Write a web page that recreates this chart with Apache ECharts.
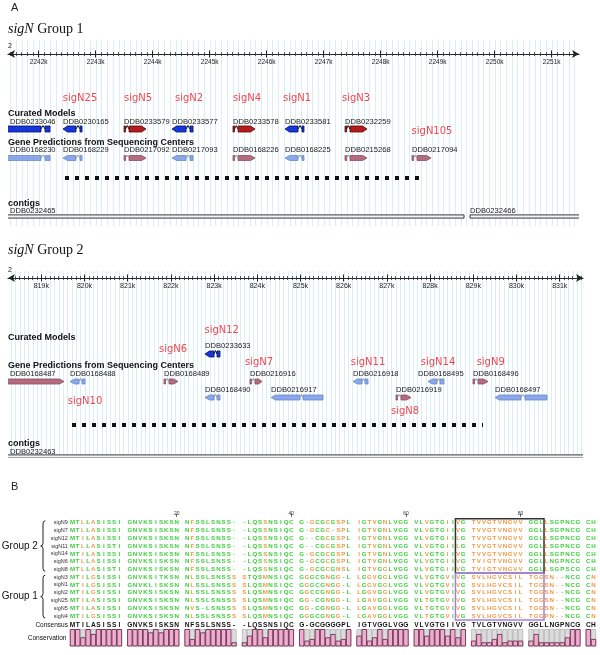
<!DOCTYPE html>
<html>
<head>
<meta charset="utf-8">
<script src="https://cdn.jsdelivr.net/npm/echarts@6.0.0/dist/echarts.min.js"></script>
<style>html,body{margin:0;padding:0;background:#fff;}#chart{width:600px;height:655px;}</style>
</head>
<body>
<div id="chart"></div>
<script>
// ================= DATA =================
// --- Panel A, sigN Group 1 (chromosome 2, bp) ---
const g1Range = [2241461, 2251479];
const g1TickLabels = [2242000,2243000,2244000,2245000,2246000,2247000,2248000,2249000,2250000,2251000];
const g1Curated = [
  ['DDB0233046','-',[[2241300,2242040],[2242111,2242198]]],
  ['DDB0230165','-',[[2242426,2242654],[2242725,2242760]]],
  ['DDB0233579','+',[[2243497,2243523],[2243584,2243882]]],
  ['DDB0233577','-',[[2244339,2244585],[2244654,2244707]]],
  ['DDB0233578','+',[[2245409,2245435],[2245497,2245795]]],
  ['DDB0233581','-',[[2246321,2246549],[2246619,2246654]]],
  ['DDB0232259','+',[[2247374,2247400],[2247461,2247760]]]
];
const g1Predicted = [
  ['DDB0168230','-',[[2241300,2242040],[2242111,2242198]]],
  ['DDB0168229','-',[[2242426,2242654],[2242725,2242760]]],
  ['DDB0217092','+',[[2243497,2243523],[2243584,2243882]]],
  ['DDB0217093','-',[[2244339,2244585],[2244654,2244707]]],
  ['DDB0168226','+',[[2245409,2245435],[2245497,2245795]]],
  ['DDB0168225','-',[[2246321,2246549],[2246619,2246654]]],
  ['DDB0215268','+',[[2247374,2247400],[2247461,2247760]]],
  ['DDB0217094','+',[[2248549,2248576],[2248637,2248883]]]
];
const g1SigLabels = [['sigN25',2242725,0],['sigN5',2243742,0],['sigN2',2244637,0],['sigN4',2245654,0],['sigN1',2246532,0],['sigN3',2247567,0],['sigN105',2248900,1]];
const g1Dashed = [[2242461,2248742]];
const g1Contigs = [['DDB0232465',2241300,2249462],['DDB0232466',2249567,2251700]];

// --- Panel A, sigN Group 2 ---
const g2Range = [818229, 831539];
const g2TickLabels = [819000,820000,821000,822000,823000,824000,825000,826000,827000,828000,829000,830000,831000];
// [id, strand, exons, lane, label start (bp, optional)]
const g2Curated = [
  ['DDB0233633','-',[[822789,822998],[823067,823137]],0]
];
const g2Predicted = [
  ['DDB0168487','+',[[817900,819525]],0],
  ['DDB0168488','-',[[819664,819873],[819942,820012]],0],
  ['DDB0168489','+',[[821840,821875],[821956,822164]],0],
  ['DDB0216916','+',[[823831,823866],[823947,824109]],0],
  ['DDB0216918','-',[[826215,826424],[826493,826563]],0],
  ['DDB0168495','-',[[827951,828159],[828229,828322]],0,827720],
  ['DDB0168496','+',[[828993,829028],[829109,829340]],0],
  ['DDB0168490','-',[[822789,822998],[823067,823137]],1],
  ['DDB0216917','-',[[824317,824988],[825058,825521]],1],
  ['DDB0216919','+',[[827211,827245],[827326,827558]],1],
  ['DDB0168497','-',[[829502,830104],[830197,830706]],1]
];
const g2SigLabels = [['sigN12',823176,0],['sigN6',822049,1],['sigN7',824039,2],['sigN11',826563,2],['sigN14',828183,2],['sigN9',829403,2],['sigN10',820012,3],['sigN8',827419,4]];
const g2Dashed = [[819711,829225]];
const g2Contigs = [['DDB0232463',818000,831700]];

// --- Panel B, alignment ---
const seqNames = ['sigN9','sigN7','sigN12','sigN11','sigN14','sigN6','sigN8','sigN3','sigN1','sigN2','sigN25','sigN5','sigN4'];
const seqs = [
 'MTLLASISSI GNVKSISKSN NFSSLSNSS- -LQSSNSIQC G-GCGCGSPL IGTVGNLVGG VLVGTGIIVG TVVGTVNGVV GGLLSGPNCG CH',
 'MTLLASISSI GNVKSISKSN NFSSLSNSS- -LQSSNSIQC G-GCGC-SPL IGTVGNLVGG VLVGTGIIVG TVVGTVNGVV GGLLSGPNCG CH',
 'MTILASISSI GNVKSISKSN NFSSLSNSS- -LQSSNSIQC G--CGCGSPL IGTVGNLVGG VLVGTGIILG TVVGTVNGVV GGLLSGPNCG CH',
 'MTLLASISTI GNVKSISKSN NFSSLSNSS- -LQSSNSIQC G--CGCGSPL IGTVGNLVGG VLVGTGIILG TVVGTVNGVV GGLLSGPNCG CH',
 'MTILASISSI GNVKSISKSN NFSSLSNSS- -LQSSNSIQC G-GCGCGSPL IGTVGNLVGG VLVGTGIIVG TVVGTVNGVV GGLLSGPNCG CH',
 'MTLLASISSI GNVKSISKSN NFSSLSNSS- -LQSSNSIQC G-GCGCGSPL IGTVGNLVGG VLVGTGIIVG TVIGTVNGVV GGLLNGPNCG CH',
 'MTLLASISTI GNVKSISKSN NFSSLSNSS- -LQSSNSIQC G-GCGCGNSL IGTVGGLVGG VLVGTGIIVG TVIGTVNGVV GGLLSGPSCG CH',
 'MTILGSISSI GNVKSITKSN NLSSLSNSSS STQSMNSIQC GGGCGNGG-L LGGVGGLVGG VLVGTGVIVG SVLHGVCSIL TGGSN--NCG CN',
 'MTILGSISSI GNVKLISKSN NLSSLSNSSS SLQSMNSIQC GGGCGNGG-L LGGVGGLVGG VLVGTGVIVG SVLHGVCSIL TGGSN--NCG CN',
 'MTILGSISSI GNVKSISKSN NLSSLSNSSS SLQSMNSIQC GGCCGNGG-L LGGVGGLVGG VLVGTGVIVG SVLHGVCSIL TGGSN--NCG CN',
 'MTILASISSI GNVKSISKSN NLSSLSNSSS SLQSMNSIQC GG-CGNGG-L LGAVGGLVGG VLTGTGVIVG SVLHGVCSIL TGGSN--NCG CN',
 'MTILASISSI GNVKSISKSN NVS-LSNSSS SLQSMNSIQC GG-CGNGG-L LGAVGGLVGG VLTGTGVIVG SVLHGVCSIL TGGSN--NCG CN',
 'MTILGSISSI GNVKSISKSN NLSSLSNSSS SLQSMNSIQC GGGCGNGG-L LGAVGGLVGG VLTGTGVIVG SVLHGVCSIL TGGPN--NCG CN'
];
const consensusSeq = 'MTILASISSI GNVKSISKSN NFSSLSNSS- -LQSSNSIQC G-GCGGGGPL IGTVGGLVGG VLVGTGIIVG TVLGTVNGVV GGLLNGPNCG CH';
// colour class per column (g = green, o = orange)
const maskGroup2 = ['ggogoggggg','gggggggggg','gogggggggg','ggggoggggg','ggoggogoog','ogoogogggg','ggogggogog','oooooooooo','gggogggggg','gg'].join(' ');
const maskGroup1 = ['ggogoggggg','gggggggggg','gogggggggo','ogggoggggg','gogggogogg','ogoogogggg','ggogggogog','oooooooooo','oooooooggg','go'].join(' ');
const groups = [['Group 2',0,6],['Group 1',7,12]];
const positionTicks = [20,40,60,80];
const boxes = [[69,83,0,6],[69,83,7,12]];
const conservation = [
  10,10,5,10,7,10,10,10,10,10,
  10,10,10,10,8,10,8,10,10,10,
  10,4,10,8,10,10,10,10,10,2,
  2,6,10,10,5,10,10,10,10,10,
  10,3,4,10,10,5,7,3,4,10,
  6,10,3,5,10,4,10,10,10,10,
  10,10,6,10,10,10,6,10,5,10,
  3,7,2,2,4,7,2,3,3,3,
  3,7,2,2,2,2,2,5,10,10,
  10,4
];

// ================= LAYOUT / STYLE =================
const SANS = '"Liberation Sans", Arial, sans-serif';
const LAYOUT1 = {ext:14, sig:[44,77.7], curLabel:[67.5], cur:[75], predLabel:[96], pred:[104], dash:124, contigLabel:157, contig:162.5, h:174};
const LAYOUT2 = {ext:7, sig:[52,71.5,84,123.7,133.7], curLabel:[68], cur:[76], predLabel:[95.5,112], pred:[103.5,119.5], dash:147, contigLabel:174, contig:178.5, h:180};
const PAL = {
  cur: {'+': {fill:'#b51c1c', stroke:'#5a0808', hat:'#111'}, '-': {fill:'#1638da', stroke:'#07106a', hat:'#111'}},
  pred: {'+': {fill:'#b46b7d', stroke:'#8d4d5d', hat:'#8c98a8'}, '-': {fill:'#89a7ea', stroke:'#6b89cd', hat:'#8c98a8'}}
};
const GREEN = '#3ed03e', ORANGE = '#f29a48';
const slotOf = pos => pos - 1 + Math.floor((pos - 1) / 10);

function genomeAxes(gridIdx, range, majors, labelSize) {
  const minors = [];
  for (let v = Math.ceil(range[0] / 100) * 100; v <= range[1]; v += 100) minors.push(v);
  const base = {type:'value', gridIndex:gridIdx, min:range[0], max:range[1], position:'top', z:3,
    splitLine:{show:false}, axisLine:{show:false, onZero:false}, axisLabel:{show:false}, axisTick:{show:false}};
  return [
    Object.assign({}, base, {axisLine:{show:true, onZero:false, lineStyle:{color:'#222', width:1.2}, symbol:['arrow','arrow'], symbolSize:[6,7]},
      axisTick:{show:true, customValues:minors, length:2, inside:false, lineStyle:{color:'#333', width:0.8}}}),
    Object.assign({}, base, {axisTick:{show:true, customValues:minors, length:2, inside:true, lineStyle:{color:'#333', width:0.8}}}),
    Object.assign({}, base, {axisTick:{show:true, customValues:majors, length:3.5, inside:true, lineStyle:{color:'#222', width:1}},
      axisLabel:{show:true, customValues:majors, inside:true, margin:4.5, fontSize:labelSize, color:'#222', fontFamily:SANS,
        formatter:v => Math.round(v / 1000) + 'k', interval:0, hideOverlap:false}}),
    Object.assign({}, base, {axisTick:{show:true, customValues:majors, length:3.5, inside:false, lineStyle:{color:'#222', width:1}}})
  ];
}

function gridlineSeries(range, xIdx, yIdx, ext) {
  const ticks = [];
  for (let v = Math.ceil(range[0] / 100) * 100; v <= range[1]; v += 100) ticks.push([v]);
  return {type:'custom', xAxisIndex:xIdx, yAxisIndex:yIdx, silent:true, z:0, clip:false, data:ticks, encode:{x:0},
    renderItem:(p, api) => {
      const cs = p.coordSys;
      const x = Math.round(api.coord([api.value(0), 0])[0]) + 0.5;
      return {type:'line', shape:{x1:x, y1:cs.y - ext, x2:x, y2:cs.y + cs.height - 2}, style:{stroke:'#d9eef5', lineWidth:1}};
    }};
}

function geneSeries(genes, xIdx, yIdx, L, kind) {
  return {type:'custom', xAxisIndex:xIdx, yAxisIndex:yIdx, silent:true, z:5, clip:true,
    data:genes.map(g => [g[2][0][0], g[2][g[2].length - 1][1]]), encode:{x:[0,1]},
    renderItem:(params, api) => {
      const g = genes[params.dataIndex];
      const strand = g[1], exons = g[2], lane = g[3] || 0;
      const cs = params.coordSys;
      const pal = PAL[kind][strand];
      const h = kind === 'cur' ? 6 : 5;
      const y = api.coord([exons[0][0], L[kind][lane]])[1];
      const yl = api.coord([exons[0][0], L[kind + 'Label'][lane]])[1];
      const xs = exons.map(e => [api.coord([e[0], 0])[0], api.coord([e[1], 0])[0]]);
      const ch = [];
      for (let i = 0; i < xs.length; i++) {
        let x1 = xs[i][0], x2 = xs[i][1];
        if (x2 - x1 < 1.4) x2 = x1 + 1.4;
        const arrowEx = strand === '+' ? i === xs.length - 1 : i === 0;
        if (arrowEx) {
          const hd = Math.min(4.5, (x2 - x1) * 0.5);
          const pts = strand === '+'
            ? [[x1, y - h/2], [x2 - hd, y - h/2], [x2, y], [x2 - hd, y + h/2], [x1, y + h/2]]
            : [[x2, y - h/2], [x1 + hd, y - h/2], [x1, y], [x1 + hd, y + h/2], [x2, y + h/2]];
          ch.push({type:'polygon', shape:{points:pts}, style:{fill:pal.fill, stroke:pal.stroke, lineWidth:0.8}});
        } else {
          ch.push({type:'rect', shape:{x:x1, y:y - h/2, width:x2 - x1, height:h}, style:{fill:pal.fill, stroke:pal.stroke, lineWidth:0.8}});
        }
        if (i > 0) {
          const a = xs[i-1][1], b = xs[i][0];
          ch.push({type:'polyline', shape:{points:[[a, y], [(a + b) / 2, y - h/2 - 0.5], [b, y]]}, style:{stroke:pal.hat, lineWidth:1, fill:null}});
        }
      }
      const lx = g[4] != null ? api.coord([g[4], 0])[0] : xs[0][0];
      ch.push({type:'text', style:{text:g[0], x:Math.max(lx, cs.x + 2), y:yl, font:'7.6px ' + SANS, fill:'#1a1a1a', align:'left', verticalAlign:'middle'}});
      return {type:'group', children:ch};
    }};
}

function sigSeries(labels, xIdx, yIdx, L) {
  return {type:'custom', xAxisIndex:xIdx, yAxisIndex:yIdx, silent:true, z:6, clip:false,
    data:labels.map(s => [s[1]]), encode:{x:0},
    renderItem:(p, api) => {
      const s = labels[p.dataIndex];
      const pt = api.coord([s[1], L.sig[s[2]]]);
      return {type:'text', style:{text:s[0], x:pt[0], y:pt[1], font:'10px "DejaVu Sans", sans-serif', fill:'#f0464f', align:'center', verticalAlign:'middle'}};
    }};
}

function dashSeries(spans, xIdx, yIdx, L) {
  return {type:'custom', xAxisIndex:xIdx, yAxisIndex:yIdx, silent:true, z:5, clip:true,
    data:spans.map(s => [s[0], s[1]]), encode:{x:[0,1]},
    renderItem:(p, api) => {
      const a = api.coord([api.value(0), L.dash]), b = api.coord([api.value(1), L.dash]);
      return {type:'line', shape:{x1:a[0], y1:a[1], x2:b[0], y2:b[1]}, style:{stroke:'#111', lineWidth:4, lineDash:[4,6]}};
    }};
}

function contigSeries(contigs, xIdx, yIdx, L) {
  return {type:'custom', xAxisIndex:xIdx, yAxisIndex:yIdx, silent:true, z:5, clip:true,
    data:contigs.map(c => [c[1], c[2]]), encode:{x:[0,1]},
    renderItem:(p, api) => {
      const c = contigs[p.dataIndex];
      const cs = p.coordSys;
      const a = api.coord([c[1], L.contig]), b = api.coord([c[2], L.contig]);
      const yl = api.coord([c[1], L.contigLabel])[1];
      return {type:'group', children:[
        {type:'rect', shape:{x:a[0], y:a[1] - 1.6, width:b[0] - a[0], height:3.2}, style:{fill:'#f2f2f2', stroke:'#3c3c3c', lineWidth:1}},
        {type:'text', style:{text:c[0], x:Math.max(a[0], cs.x + 2), y:yl, font:'7.6px ' + SANS, fill:'#1a1a1a', align:'left', verticalAlign:'middle'}}
      ]};
    }};
}

// ---- alignment data items ----
const resData = [], resChar = [], resColor = [];
seqs.forEach((s, r) => {
  const mask = r < 7 ? maskGroup2 : maskGroup1;
  for (let i = 0; i < s.length; i++) {
    if (s[i] === ' ') continue;
    resData.push([i, r]); resChar.push(s[i]); resColor.push(mask[i] === 'o' ? ORANGE : GREEN);
  }
});
for (let i = 0; i < consensusSeq.length; i++) {
  if (consensusSeq[i] === ' ') continue;
  resData.push([i, 13.2]); resChar.push(consensusSeq[i]); resColor.push('#111');
}
const consData = conservation.map((v, i) => [slotOf(i + 1), v]);

// ================= CHART =================
const chart = echarts.init(document.getElementById('chart'), null, {renderer:'canvas', width:600, height:655});
const xAxes = [].concat(
  genomeAxes(0, g1Range, g1TickLabels, 6.5),
  genomeAxes(1, g2Range, g2TickLabels, 7),
  [{type:'value', gridIndex:2, min:-0.5, max:100.5, position:'top', offset:2, z:3,
    axisLine:{show:false, onZero:false}, splitLine:{show:false},
    axisTick:{show:true, customValues:positionTicks.map(slotOf), length:3, lineStyle:{color:'#333', width:0.8}},
    axisLabel:{show:true, customValues:positionTicks.map(slotOf), margin:1, fontSize:5, color:'#333', fontFamily:SANS,
      formatter:v => { const p = positionTicks.find(q => slotOf(q) === Math.round(v)); return p ? String(p) : ''; }}},
   {type:'value', gridIndex:3, min:-0.5, max:100.5, show:false}]
);
const yAxes = [
  {type:'value', gridIndex:0, min:0, max:LAYOUT1.h, inverse:true, show:false},
  {type:'value', gridIndex:1, min:0, max:LAYOUT2.h, inverse:true, show:false},
  {type:'value', gridIndex:2, min:-0.5, max:13.5, inverse:true, z:3,
    axisLine:{show:false}, axisTick:{show:false}, splitLine:{show:false},
    axisLabel:{show:true, customValues:[0,1,2,3,4,5,6,7,8,9,10,11,12,13.2], margin:2, fontSize:5.5, color:'#333', fontFamily:SANS,
      formatter:v => v > 12.5 ? '{c|Consensus}' : seqNames[Math.round(v)],
      rich:{c:{fontSize:6.5, color:'#111', fontFamily:SANS}}}},
  {type:'value', gridIndex:3, min:0, max:10, show:false}
];

const series = [
  gridlineSeries(g1Range, 0, 0, LAYOUT1.ext),
  geneSeries(g1Curated, 0, 0, LAYOUT1, 'cur'),
  geneSeries(g1Predicted, 0, 0, LAYOUT1, 'pred'),
  sigSeries(g1SigLabels, 0, 0, LAYOUT1),
  dashSeries(g1Dashed, 0, 0, LAYOUT1),
  contigSeries(g1Contigs, 0, 0, LAYOUT1),
  gridlineSeries(g2Range, 4, 1, LAYOUT2.ext),
  geneSeries(g2Curated, 4, 1, LAYOUT2, 'cur'),
  geneSeries(g2Predicted, 4, 1, LAYOUT2, 'pred'),
  sigSeries(g2SigLabels, 4, 1, LAYOUT2),
  dashSeries(g2Dashed, 4, 1, LAYOUT2),
  contigSeries(g2Contigs, 4, 1, LAYOUT2),
  // residues
  {type:'custom', xAxisIndex:8, yAxisIndex:2, silent:true, z:5, clip:false, data:resData, encode:{x:0, y:1},
    renderItem:(p, api) => {
      const pt = api.coord([api.value(0), api.value(1)]);
      const isCons = api.value(1) > 12.5;
      return {type:'text', style:{text:resChar[p.dataIndex], x:pt[0], y:pt[1], fill:resColor[p.dataIndex],
        font:(isCons ? 'bold 6.6px ' : 'bold 6.2px ') + SANS, align:'center', verticalAlign:'middle'}};
    }},
  // boxes
  {type:'custom', xAxisIndex:8, yAxisIndex:2, silent:true, z:7, clip:false, data:boxes.map(b => [slotOf(b[0]), b[2]]), encode:{x:0, y:1},
    renderItem:(p, api) => {
      const b = boxes[p.dataIndex];
      const a = api.coord([slotOf(b[0]) - 0.5, b[2] - 0.5]), c = api.coord([slotOf(b[1]) + 0.5, b[3] + 0.5]);
      return {type:'rect', shape:{x:a[0], y:a[1], width:c[0] - a[0], height:c[1] - a[1]},
        style:{fill:null, stroke:p.dataIndex === 0 ? '#333' : '#a47fe0', lineWidth:1.5}};
    }},
  // group braces + labels
  {type:'custom', xAxisIndex:8, yAxisIndex:2, silent:true, z:5, clip:false, data:groups.map(g => [0, g[1]]), encode:{x:0, y:1},
    renderItem:(p, api) => {
      const g = groups[p.dataIndex];
      const cs = p.coordSys;
      const y0 = api.coord([0, g[1] - 0.25])[1], y1 = api.coord([0, g[2] + 0.25])[1];
      const ym = (y0 + y1) / 2;
      const xt = cs.x - 29.2, xm = xt + 2.3, xr = xt + 4.6;
      const st = {stroke:'#222', lineWidth:1, fill:null};
      return {type:'group', children:[
        {type:'bezierCurve', shape:{x1:xr, y1:y0, x2:xm, y2:y0 + 3, cpx1:xm, cpy1:y0}, style:st},
        {type:'line', shape:{x1:xm, y1:y0 + 3, x2:xm, y2:ym - 3}, style:st},
        {type:'bezierCurve', shape:{x1:xm, y1:ym - 3, x2:xt, y2:ym, cpx1:xm, cpy1:ym}, style:st},
        {type:'bezierCurve', shape:{x1:xt, y1:ym, x2:xm, y2:ym + 3, cpx1:xm, cpy1:ym}, style:st},
        {type:'line', shape:{x1:xm, y1:ym + 3, x2:xm, y2:y1 - 3}, style:st},
        {type:'bezierCurve', shape:{x1:xm, y1:y1 - 3, x2:xr, y2:y1, cpx1:xm, cpy1:y1}, style:st},
        {type:'text', style:{text:g[0], x:cs.x - 32, y:ym, font:'10px ' + SANS, fill:'#111', align:'right', verticalAlign:'middle'}}
      ]};
    }},
  // conservation
  {type:'custom', xAxisIndex:9, yAxisIndex:3, silent:true, z:5, clip:false, data:consData, encode:{x:0, y:1},
    renderItem:(p, api) => {
      const s = api.value(0), v = api.value(1);
      const w = api.size([1, 0])[0] - 0.7;
      const x = api.coord([s, 0])[0] - w / 2;
      const yb = api.coord([s, 0])[1], yt = api.coord([s, 10])[1], yv = api.coord([s, v])[1];
      return {type:'group', children:[
        {type:'rect', shape:{x:x, y:yt, width:w, height:yb - yt}, style:{fill:'#dcdcdc', stroke:'#999', lineWidth:0.5}},
        {type:'rect', shape:{x:x, y:yv, width:w, height:yb - yv}, style:{fill:'#efadd0', stroke:'#5e2040', lineWidth:0.8}}
      ]};
    }}
];

const headStyle = {font:'bold 9px ' + SANS, fill:'#111', verticalAlign:'middle'};
function head(text, x, y) { return {type:'text', x:x, y:y, z:100, silent:true, style:Object.assign({text:text}, headStyle)}; }
function title(text, y) {
  return {type:'text', x:8, y:y, z:100, silent:true, style:{text:'{i|sigN} ' + text, font:'14px "Liberation Serif", serif', fill:'#111', verticalAlign:'middle',
    rich:{i:{fontStyle:'italic', fontSize:14, fontFamily:'"Liberation Serif", serif', fill:'#111'}}}};
}

chart.setOption({
  animation:false,
  backgroundColor:'#fff',
  grid:[
    {left:8, top:54, width:571, height:LAYOUT1.h, outerBoundsMode:'none', containLabel:false},
    {left:8, top:278, width:575, height:LAYOUT2.h, outerBoundsMode:'none', containLabel:false},
    {left:69.9, top:518.8, width:526.2, height:108.9, outerBoundsMode:'none', containLabel:false},
    {left:69.9, top:629.5, width:526.2, height:16.5, outerBoundsMode:'none', containLabel:false}
  ],
  xAxis:xAxes,
  yAxis:yAxes,
  series:series,
  graphic:[
    {type:'text', x:11, y:8, z:100, silent:true, style:{text:'A', font:'11px ' + SANS, fill:'#222', verticalAlign:'middle'}},
    {type:'text', x:11, y:487, z:100, silent:true, style:{text:'B', font:'11px ' + SANS, fill:'#222', verticalAlign:'middle'}},
    title('Group 1', 29),
    title('Group 2', 250),
    {type:'text', x:8, y:46, z:100, silent:true, style:{text:'2', font:'7px ' + SANS, fill:'#222', verticalAlign:'middle'}},
    {type:'text', x:8, y:270, z:100, silent:true, style:{text:'2', font:'7px ' + SANS, fill:'#222', verticalAlign:'middle'}},
    head('Curated Models', 8, 114),
    head('Gene Predictions from Sequencing Centers', 8, 142.3),
    head('contigs', 8, 203.5),
    head('Curated Models', 8, 338),
    head('Gene Predictions from Sequencing Centers', 8, 366),
    head('contigs', 8, 443.5),
    {type:'text', x:66.5, y:637.7, z:100, silent:true, style:{text:'Conservation', font:'6.6px ' + SANS, fill:'#111', align:'right', verticalAlign:'middle'}}
  ]
});
</script>
</body>
</html>
